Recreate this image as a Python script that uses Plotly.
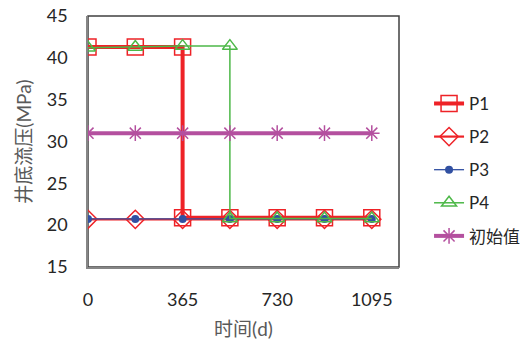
import plotly.graph_objects as go

t_P1 = [0, 182.5, 365, 365, 547.5, 730, 912.5, 1095]
p_P1 = [41.3, 41.3, 41.3, 20.9, 20.9, 20.9, 20.9, 20.9]
t_all = [0, 182.5, 365, 547.5, 730, 912.5, 1095]
p_P2 = [20.7, 20.7, 20.7, 20.7, 20.7, 20.7, 20.7]
p_P3 = [20.75, 20.75, 20.75, 20.75, 20.75, 20.75, 20.75]
t_P4 = [0, 182.5, 365, 547.5, 547.5, 730, 912.5, 1095]
p_P4 = [41.2, 41.3, 41.4, 41.4, 20.8, 20.8, 20.8, 20.8]
p_init = [31, 31, 31, 31, 31, 31, 31]
x_ticks = [0, 365, 730, 1095]
y_ticks = [15, 20, 25, 30, 35, 40, 45]

RED = "#ee2227"
FONT = "Lato, 'Noto Sans CJK SC', sans-serif"

fig = go.Figure()
fig.add_trace(go.Scatter(x=t_P1, y=p_P1, name="P1", mode="lines+markers", legendgroup="1",
                         line=dict(color=RED, width=4),
                         marker=dict(symbol="square-open", size=16, color=RED, line=dict(width=1.5))))
fig.add_trace(go.Scatter(x=t_all, y=p_P2, name="P2", mode="lines+markers", legendgroup="2",
                         line=dict(color=RED, width=2.2),
                         marker=dict(symbol="diamond-open", size=14, color=RED, line=dict(width=1.5))))
fig.add_trace(go.Scatter(x=t_all, y=p_P3, name="P3", mode="lines+markers", legendgroup="3",
                         line=dict(color="#3150a2", width=1.3),
                         marker=dict(symbol="circle", size=8, color="#3150a2")))
fig.add_trace(go.Scatter(x=t_P4, y=p_P4, name="P4", mode="lines+markers", legendgroup="4",
                         line=dict(color="#4db848", width=1.5),
                         marker=dict(symbol="triangle-up-open", size=13, color="#4db848", line=dict(width=1.5))))
fig.add_trace(go.Scatter(x=t_all, y=p_init, name="初始值", mode="lines+markers", legendgroup="5",
                         line=dict(color="#b4509f", width=4),
                         marker=dict(symbol="asterisk-open", size=13, color="#b4509f", line=dict(width=1.5, color="#b4509f"))))

fig.add_shape(type="rect", xref="paper", yref="paper", x0=0, y0=0, x1=1, y1=1,
              line=dict(color="#404040", width=1.5), layer="below")

fig.update_layout(
    width=531, height=344,
    margin=dict(l=88, r=132, t=16, b=77),
    paper_bgcolor="white", plot_bgcolor="white",
    font=dict(family=FONT, size=18, color="#262626"),
    showlegend=True,
    legend=dict(xref="container", yref="container", x=0.808, xanchor="left", y=0.506, yanchor="middle",
                font=dict(size=17, color="#262626", family=FONT),
                tracegroupgap=8, traceorder="grouped", bgcolor="rgba(0,0,0,0)", borderwidth=0),
    xaxis=dict(range=[0, 1200], tickvals=x_ticks, ticktext=[str(v) for v in x_ticks],
               showgrid=False, zeroline=False, showline=True, linecolor="#868686", linewidth=1.5,
               ticks="", ticklabelstandoff=16, automargin=False,
               tickfont=dict(size=18, color="#262626"),
               title=dict(text="时间(d)", font=dict(size=19, color="#595959"), standoff=13)),
    yaxis=dict(range=[15, 45], tickvals=y_ticks, showgrid=False, zeroline=False,
               showline=True, linecolor="#868686", linewidth=1.5, ticks="", ticklabelstandoff=15,
               automargin=False, tickfont=dict(size=18, color="#262626"),
               title=dict(text="井底流压(MPa)", font=dict(size=19, color="#595959"), standoff=10)),
)

fig.write_html("out.html", config={"displayModeBar": False},
               post_script="document.body.style.margin='0';")
